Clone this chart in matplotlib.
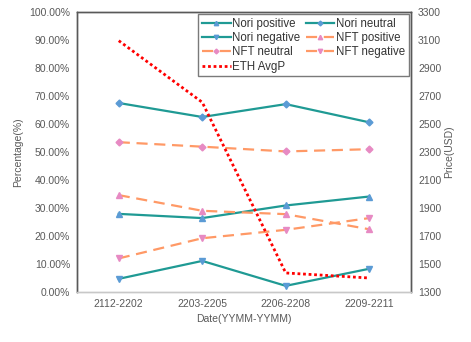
import matplotlib
matplotlib.use("Agg")
import matplotlib.pyplot as plt
from matplotlib.ticker import PercentFormatter

plt.rcParams['font.family'] = ['Liberation Sans', 'DejaVu Sans']

dates = ["2112-2202", "2203-2205", "2206-2208", "2209-2211"]
nori_positive = [27.9, 26.4, 30.9, 34.1]
nori_neutral = [67.5, 62.5, 67.1, 60.6]
nori_negative = [4.7, 11.1, 2.2, 8.3]
nft_positive = [34.6, 29.0, 27.8, 22.4]
nft_neutral = [53.5, 51.9, 50.2, 51.0]
nft_negative = [12.0, 19.2, 22.2, 26.4]
eth_avgp = [3095, 2655, 1436, 1400]

teal = "#1f9a94"
orange = "#ff9966"
blue = "#5b9bd5"
pink = "#e78ac3"
gray = "#595959"

fig = plt.figure(figsize=(4.71, 3.42), dpi=100)
ax = fig.add_axes([77/471, 50/342, 334/471, 280/342])
ax2 = ax.twinx()

x = list(range(len(dates)))
lw = 1.6
ms = 4.5
h1, = ax.plot(x, nori_positive, color=teal, lw=lw, marker='^', ms=ms, mfc=blue, mec=blue, label="Nori positive")
h2, = ax.plot(x, nori_neutral, color=teal, lw=lw, marker='D', ms=ms - 1, mfc=blue, mec=blue, label="Nori neutral")
h3, = ax.plot(x, nori_negative, color=teal, lw=lw, marker='v', ms=ms, mfc=blue, mec=blue, label="Nori negative")
h4, = ax.plot(x, nft_positive, color=orange, lw=lw, ls=(0, (5, 3)), marker='^', ms=ms, mfc=pink, mec=pink, label="NFT positive")
h5, = ax.plot(x, nft_neutral, color=orange, lw=lw, ls=(0, (5, 3)), marker='D', ms=ms - 1, mfc=pink, mec=pink, label="NFT neutral")
h6, = ax.plot(x, nft_negative, color=orange, lw=lw, ls=(0, (5, 3)), marker='v', ms=ms, mfc=pink, mec=pink, label="NFT negative")
h7, = ax2.plot(x, eth_avgp, color="#ff0000", lw=2.0, ls=(0, (1, 1)), label="ETH AvgP")

ax.set_xlim(-0.5, 3.5)
ax.set_ylim(0, 100)
ax.set_yticks(range(0, 101, 10))
ax.yaxis.set_major_formatter(PercentFormatter(decimals=2))
ax2.set_ylim(1300, 3300)
ax2.set_yticks(range(1300, 3301, 200))
ax.set_xticks(x)
ax.set_xticklabels(dates)

for a in (ax, ax2):
    a.tick_params(axis='both', length=0, labelsize=7.5, labelcolor=gray, pad=5)
    for s in a.spines.values():
        s.set_color("#595959")
        s.set_linewidth(1.0)
    a.spines['bottom'].set_color("#c8c8c8")

ax.set_ylabel("Percentage(%)", fontsize=7.5, color=gray, labelpad=4)
ax2.set_ylabel("Price(USD)", fontsize=7.5, color=gray, labelpad=2)
ax.set_xlabel("Date(YYMM-YYMM)", fontsize=7.5, color=gray, labelpad=4)

handles = [h1, h3, h5, h7, h2, h4, h6]
leg = ax2.legend(handles=handles, ncol=2, loc='upper right', fontsize=8.3,
                 frameon=True, fancybox=False, borderaxespad=0.2,
                 handlelength=2.5, handletextpad=0.15, columnspacing=0.45,
                 labelspacing=0.2, borderpad=0.3, markerscale=0.7)
leg.get_frame().set_edgecolor("#595959")
leg.get_frame().set_linewidth(1.0)
for t in leg.get_texts():
    t.set_color("#333333")

fig.savefig("out.png", dpi=100)
